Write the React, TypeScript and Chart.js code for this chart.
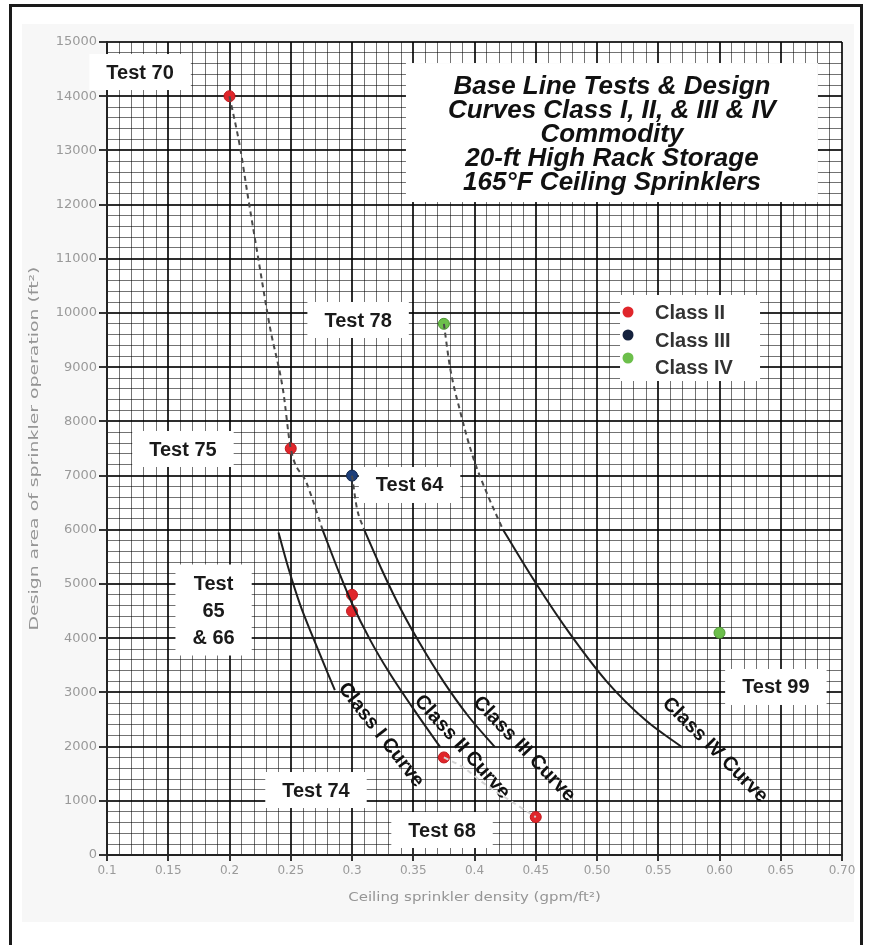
import React, { useEffect, useRef } from 'react';
import { Chart, registerables } from 'chart.js';

Chart.register(...registerables);

// ---------- axis ticks ----------
const xTickValues = [0.1, 0.15, 0.2, 0.25, 0.3, 0.35, 0.4, 0.45, 0.5, 0.55, 0.6, 0.65, 0.7];
const xTickLabels = ['0.1', '0.15', '0.2', '0.25', '0.3', '0.35', '0.4', '0.45', '0.50', '0.55', '0.60', '0.65', '0.70'];
const yTickValues = [0, 1000, 2000, 3000, 4000, 5000, 6000, 7000, 8000, 9000, 10000, 11000, 12000, 13000, 14000, 15000];
const yTickLabels = ['0', '1000', '2000', '3000', '4000', '5000', '6000', '7000', '8000', '9000', '10000', '11000', '12000', '13000', '14000', '15000'];

// ---------- test points ----------
const classIIDensity = [0.2, 0.25, 0.3, 0.3, 0.375, 0.45];
const classIIArea = [14000, 7500, 4800, 4500, 1800, 700];
const classIIIDensity = [0.3];
const classIIIArea = [7000];
const classIVDensity = [0.375, 0.6];
const classIVArea = [9800, 4100];

// ---------- design curves (solid) ----------
const classICurveDensity = [0.24, 0.248, 0.2575, 0.269, 0.286];
const classICurveArea = [5950, 5300, 4630, 3970, 3040];
const classIICurveDensity = [0.276, 0.29, 0.3, 0.315, 0.33, 0.35, 0.372];
const classIICurveArea = [6000, 5180, 4640, 3960, 3380, 2700, 1990];
const classIIICurveDensity = [0.31, 0.325, 0.34, 0.355, 0.375, 0.395, 0.4167];
const classIIICurveArea = [6000, 5230, 4530, 3920, 3190, 2560, 1990];
const classIVCurveDensity = [0.4233, 0.45, 0.478, 0.508, 0.54, 0.57];
const classIVCurveArea = [6000, 5020, 4080, 3200, 2480, 1980];

// ---------- dashed extensions to the tests ----------
const classIIExtDensity = [0.2, 0.2086, 0.2151, 0.2233, 0.233, 0.2437, 0.25, 0.263, 0.276];
const classIIExtArea = [14000, 13060, 12140, 11030, 9740, 8580, 7500, 6860, 6000];
const classIIIExtDensity = [0.3, 0.304, 0.31];
const classIIIExtArea = [7000, 6400, 6000];
const classIVExtDensity = [0.375, 0.38, 0.388, 0.3988, 0.41, 0.4233];
const classIVExtArea = [9800, 9000, 8210, 7340, 6680, 6000];
const test74to68Density = [0.375, 0.3906, 0.406, 0.45];
const test74to68Area = [1800, 1620, 1350, 700];

// ---------- texts ----------
const legendLabels = ['Class II', 'Class III', 'Class IV'];
const legendColors = ['#e0262b', '#14213d', '#6cbf4b'];
const titleLines = ['Base Line Tests & Design', 'Curves Class I, II, & III & IV', 'Commodity', '20-ft High Rack Storage', '165°F Ceiling Sprinklers'];
const testLabelTexts = [['Test 70'], ['Test 78'], ['Test 75'], ['Test 64'], ['Test', '65', '& 66'], ['Test 99'], ['Test 74'], ['Test 68']];
const curveLabelTexts = ['Class I Curve', 'Class II Curve', 'Class III Curve', 'Class IV Curve'];
const xAxisTitle = 'Ceiling sprinkler density (gpm/ft²)';
const yAxisTitle = 'Design area of sprinkler operation (ft²)';

// ---------- layout (anchors in data units) ----------
const testLabelAnchors = [
  { x: 0.127, y: 14446 }, { x: 0.305, y: 9871 }, { x: 0.162, y: 7491 }, { x: 0.347, y: 6827 },
  { x: 0.187, y: 4520 }, { x: 0.646, y: 3100 }, { x: 0.2706, y: 1199 }, { x: 0.3735, y: 461 },
];
const curveLabelAnchors = [
  { x: 0.3237, y: 2214, a: 52 }, { x: 0.3898, y: 1993, a: 48 }, { x: 0.4404, y: 1956, a: 46 }, { x: 0.5963, y: 1937, a: 45 },
];
const titleAnchor = { x: 0.5122, y: 13339 };
const legendAnchor = { x: 0.5188, y: 10332 };

const BOLD = '"Liberation Sans", Arial, Helvetica, sans-serif';
const TICKFONT = '"DejaVu Sans", "Liberation Sans", sans-serif';

const pts = (xs: number[], ys: number[]) => xs.map((x, i) => ({ x, y: ys[i] }));
const near = (arr: number[], v: number) => arr.findIndex((a) => Math.abs(a - v) < 1e-6);

const decorPlugin = {
  id: 'decor',
  beforeDraw(chart: any) {
    const { ctx, chartArea: a } = chart;
    ctx.save();
    ctx.fillStyle = '#ffffff';
    ctx.fillRect(0, 0, chart.width, chart.height);
    ctx.fillStyle = '#f7f7f7';
    ctx.fillRect(22, 24, 832, 898);
    ctx.fillStyle = '#ffffff';
    ctx.fillRect(a.left, a.top, a.right - a.left, a.bottom - a.top);
    ctx.strokeStyle = '#1a1a1a';
    ctx.lineWidth = 3;
    ctx.strokeRect(10.5, 5.5, 851, 1000);

    // axis titles
    ctx.fillStyle = '#959595';
    ctx.textAlign = 'center';
    ctx.textBaseline = 'middle';
    ctx.font = `13px ${TICKFONT}`;
    ctx.save();
    ctx.translate(35, (a.top + a.bottom) / 2);
    ctx.rotate(-Math.PI / 2);
    ctx.scale(1.45, 1);
    ctx.fillText(yAxisTitle, 0, 0);
    ctx.restore();
    ctx.font = `13px ${TICKFONT}`;
    ctx.save();
    ctx.translate((a.left + a.right) / 2, 898);
    ctx.scale(1.15, 1);
    ctx.fillText(xAxisTitle, 0, 0);
    ctx.restore();
    ctx.restore();
  },
  beforeDatasetsDraw(chart: any) {
    const { ctx, scales } = chart;
    const xs = scales.x, ys = scales.y;
    ctx.save();
    // title box
    const tx = xs.getPixelForValue(titleAnchor.x), ty = ys.getPixelForValue(titleAnchor.y);
    ctx.fillStyle = '#ffffff';
    ctx.fillRect(tx - 206, ty - 69, 412, 139);
    ctx.fillStyle = '#111';
    ctx.font = `italic bold 26px ${BOLD}`;
    ctx.textAlign = 'center';
    ctx.textBaseline = 'middle';
    titleLines.forEach((l, i) => ctx.fillText(l, tx, ty - 45 + i * 24));

    // test labels
    ctx.font = `bold 20px ${BOLD}`;
    testLabelTexts.forEach((lines, i) => {
      const cx = xs.getPixelForValue(testLabelAnchors[i].x);
      const cy = ys.getPixelForValue(testLabelAnchors[i].y);
      const lh = 27;
      const w = Math.max(...lines.map((l) => ctx.measureText(l).width)) + 34;
      const h = lines.length === 1 ? 36 : lh * lines.length + 10;
      ctx.fillStyle = '#ffffff';
      ctx.fillRect(cx - w / 2, cy - h / 2, w, h);
      ctx.fillStyle = '#1a1a1a';
      lines.forEach((l, j) => ctx.fillText(l, cx, cy + (j - (lines.length - 1) / 2) * lh + 1));
    });

    // legend
    const lx = xs.getPixelForValue(legendAnchor.x), ly = ys.getPixelForValue(legendAnchor.y);
    ctx.fillStyle = '#ffffff';
    ctx.fillRect(lx, ly, 140, 86);
    const circY = [17, 40, 63];
    const textY = [17, 45, 72];
    ctx.textAlign = 'left';
    ctx.font = `bold 20px ${BOLD}`;
    legendLabels.forEach((l, i) => {
      ctx.beginPath();
      ctx.arc(lx + 8, ly + circY[i], 5.5, 0, Math.PI * 2);
      ctx.fillStyle = legendColors[i];
      ctx.fill();
      ctx.fillStyle = '#333';
      ctx.fillText(l, lx + 35, ly + textY[i] + 1);
    });

    // rotated curve labels
    ctx.fillStyle = '#111';
    ctx.textAlign = 'center';
    ctx.font = `bold 20px ${BOLD}`;
    curveLabelTexts.forEach((l, i) => {
      const c = curveLabelAnchors[i];
      ctx.save();
      ctx.translate(xs.getPixelForValue(c.x), ys.getPixelForValue(c.y));
      ctx.rotate((c.a * Math.PI) / 180);
      ctx.fillText(l, 0, 0);
      ctx.restore();
    });
    ctx.restore();
  },
};

const solid = (label: string, data: any) => ({
  type: 'line' as const, label, data, showLine: true, borderColor: '#1e1e1e', borderWidth: 2,
  pointRadius: 0, cubicInterpolationMode: 'monotone' as const, fill: false,
});
const dashed = (label: string, data: any, color = '#4a4a4a') => ({
  type: 'line' as const, label, data, showLine: true, borderColor: color, borderWidth: 2,
  borderDash: [5, 4], pointRadius: 0, cubicInterpolationMode: 'monotone' as const, fill: false,
});
const points = (label: string, data: any, color: string, border: string) => ({
  type: 'scatter' as const, label, data, showLine: false, pointRadius: 5.5, pointHoverRadius: 5.5,
  backgroundColor: color, borderColor: border, borderWidth: 1,
});

export default function App() {
  const ref = useRef<HTMLCanvasElement>(null);
  useEffect(() => {
    const chart = new Chart(ref.current as HTMLCanvasElement, {
      type: 'scatter',
      data: {
        datasets: [
          dashed('Test 74-68', pts(test74to68Density, test74to68Area), '#d4d4d4'),
          dashed('Class II ext', pts(classIIExtDensity, classIIExtArea)),
          dashed('Class III ext', pts(classIIIExtDensity, classIIIExtArea)),
          dashed('Class IV ext', pts(classIVExtDensity, classIVExtArea)),
          solid('Class I Curve', pts(classICurveDensity, classICurveArea)),
          solid('Class II Curve', pts(classIICurveDensity, classIICurveArea)),
          solid('Class III Curve', pts(classIIICurveDensity, classIIICurveArea)),
          solid('Class IV Curve', pts(classIVCurveDensity, classIVCurveArea)),
          points('Class II', pts(classIIDensity, classIIArea), legendColors[0], '#c2181d'),
          points('Class III', pts(classIIIDensity, classIIIArea), '#1d3f7a', '#12284f'),
          points('Class IV', pts(classIVDensity, classIVArea), legendColors[2], '#4f9a34'),
        ] as any,
      },
      options: {
        responsive: false,
        animation: false,
        events: [],
        layout: { padding: { left: 20, top: 42, right: 31, bottom: 32 } },
        plugins: { legend: { display: false }, tooltip: { enabled: false } },
        scales: {
          x: {
            type: 'linear', min: 0.1, max: 0.7,
            afterFit: (s: any) => { s.height = 58; },
            ticks: {
              stepSize: 0.01, autoSkip: false, maxRotation: 0, minRotation: 0, padding: 3,
              color: '#9a9a9a', font: { family: TICKFONT, size: 12 },
              callback: (v: any) => { const i = near(xTickValues, Number(v)); return i >= 0 ? xTickLabels[i] : ''; },
            },
            grid: {
              drawTicks: true, tickLength: 6,
              color: (c: any) => (c.tick && near(xTickValues, c.tick.value) >= 0 ? 'rgba(0,0,0,0.82)' : 'rgba(0,0,0,0.55)'),
              lineWidth: (c: any) => (c.tick && near(xTickValues, c.tick.value) >= 0 ? 2 : 1),
              tickColor: (c: any) => (c.tick && near(xTickValues, c.tick.value) >= 0 ? '#333' : 'rgba(0,0,0,0)'),
            },
            border: { display: true, color: '#222', width: 2 },
            title: { display: false },
          },
          y: {
            type: 'linear', min: 0, max: 15000,
            afterFit: (s: any) => { s.width = 87; },
            ticks: {
              stepSize: 200, autoSkip: false, padding: 2,
              color: '#9a9a9a', font: { family: TICKFONT, size: 13 },
              callback: (v: any) => { const i = near(yTickValues, Number(v)); return i >= 0 ? yTickLabels[i] : ''; },
            },
            grid: {
              drawTicks: true, tickLength: 8,
              color: (c: any) => (c.tick && near(yTickValues, c.tick.value) >= 0 ? 'rgba(0,0,0,0.82)' : 'rgba(0,0,0,0.55)'),
              lineWidth: (c: any) => (c.tick && near(yTickValues, c.tick.value) >= 0 ? 2 : 1),
              tickColor: (c: any) => (c.tick && near(yTickValues, c.tick.value) >= 0 ? '#333' : 'rgba(0,0,0,0)'),
            },
            border: { display: true, color: '#222', width: 2 },
            title: { display: false },
          },
        },
      } as any,
      plugins: [decorPlugin],
    });
    return () => chart.destroy();
  }, []);
  return (
    <div style={{ position: 'absolute', left: 0, top: 0, width: 873, height: 945, overflow: 'hidden', background: '#fff' }}>
      <canvas ref={ref} width={873} height={945} style={{ display: 'block', width: 873, height: 945 }} />
    </div>
  );
}
